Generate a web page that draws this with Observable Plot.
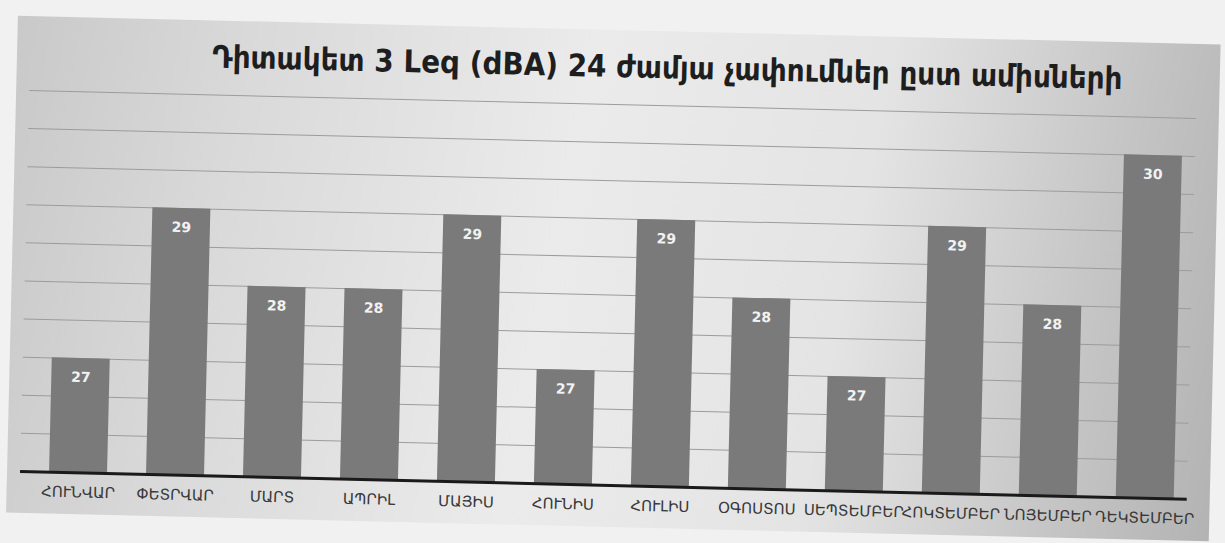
<!DOCTYPE html>
<html>
<head>
<meta charset="utf-8">
<script src="https://cdn.jsdelivr.net/npm/d3@7"></script>
<script src="https://cdn.jsdelivr.net/npm/@observablehq/plot@0.6"></script>
<style>
  html, body { margin: 0; padding: 0; background: #f1f1f1; }
  #page { width: 1225px; height: 543px; position: relative; overflow: hidden; background: #f1f1f1; }
  #slide { position: absolute; left: 0; top: 0; width: 1225px; height: 543px;
           transform: rotate(1.37deg); transform-origin: 612px 271px; }
  #bg { position: absolute; left: 12px; top: 30px; width: 1203px; height: 497px;
        background: linear-gradient(100deg, #c9c9c9 0%, #d9d9d9 18%, #ebebeb 45%, #e4e4e4 68%, #c4c4c4 88%, #b3b3b3 100%); }
  #title { position: absolute; left: 0; width: 1225px; top: 48px; text-align: center;
           font-family: "DejaVu Sans Condensed", "DejaVu Sans", sans-serif; font-weight: bold; font-size: 31px; color: #1e1e1e;
           padding-left: 100px; box-sizing: border-box; }
  #chart { position: absolute; left: 0; top: 0; }
</style>
</head>
<body>
<div id="page">
  <div id="slide">
    <div id="bg"></div>
    <div id="title">Դիտակետ 3 Leq (dBA) 24 ժամյա չափումներ ըստ ամիսների</div>
    <div id="chart"></div>
  </div>
</div>
<script>
const months = ["ՀՈՒՆՎԱՐ", "ՓԵՏՐՎԱՐ", "ՄԱՐՏ", "ԱՊՐԻԼ", "ՄԱՅԻՍ", "ՀՈՒՆԻՍ",
                "ՀՈՒԼԻՍ", "ՕԳՈՍՏՈՍ", "ՍԵՊՏԵՄԲԵՐ", "ՀՈԿՏԵՄԲԵՐ", "ՆՈՅԵՄԲԵՐ", "ԴԵԿՏԵՄԲԵՐ"];
const leq = [27, 29, 28, 28, 29, 27, 29, 28, 27, 29, 28, 30];
const yDomain = [25.5, 30.5];

const data = months.map((m, i) => ({month: m, value: leq[i]}));

const chart = Plot.plot({
  width: 1225,
  height: 543,
  marginTop: 104,
  marginBottom: 58,
  marginLeft: 25,
  marginRight: 33,
  style: {background: "transparent", fontFamily: "DejaVu Sans, sans-serif"},
  x: {domain: months, paddingInner: 0.4, paddingOuter: 0.184, align: 0.69, label: null},
  y: {domain: yDomain, label: null, axis: null},
  marks: [
    Plot.gridY({interval: 0.5, stroke: "#9c9c9c", strokeOpacity: 1, strokeWidth: 1}),
    Plot.barY(data, {x: "month", y1: yDomain[0], y2: "value", fill: "#7a7a7a"}),
    Plot.text(data, {x: "month", y: "value", text: d => String(d.value), dy: 19,
                     fill: "#f2f2f2", fontWeight: "bold", fontSize: 14}),
    Plot.ruleY([yDomain[0]], {stroke: "#1a1a1a", strokeWidth: 3}),
    Plot.axisX({tickSize: 0, tickPadding: 14, fontSize: 15, fill: "#383838", label: null,
                fontFamily: "DejaVu Sans, sans-serif"})
  ]
});
document.getElementById("chart").appendChild(chart);
</script>
</body>
</html>
